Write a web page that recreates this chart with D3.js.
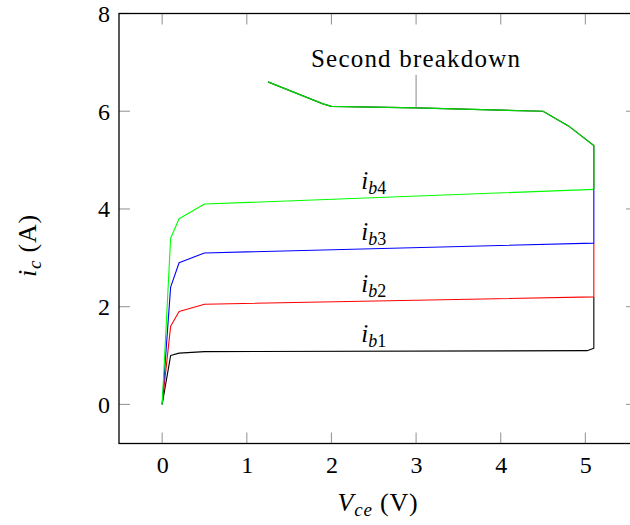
<!DOCTYPE html>
<html>
<head>
<meta charset="utf-8">
<script src="https://cdn.jsdelivr.net/npm/d3@7"></script>
<style>
  html, body { margin: 0; padding: 0; background: #fff; }
  svg text { font-family: 'Liberation Serif'; fill: #000; }
</style>
</head>
<body>
<svg id="chart" width="630" height="525"></svg>
<script>
// ---- data ----
const xTicks = [0, 1, 2, 3, 4, 5];
const yTicks = [0, 2, 4, 6, 8];

const ib1X = [0, 0.1, 0.2, 0.5, 5.02, 5.1, 5.1];
const ib1Y = [0, 1.0, 1.05, 1.08, 1.10, 1.15, 2.2];

const ib2X = [0, 0.1, 0.2, 0.5, 5.1, 5.1];
const ib2Y = [0, 1.6, 1.9, 2.05, 2.2, 3.3];

const ib3X = [0, 0.1, 0.2, 0.5, 5.1, 5.1];
const ib3Y = [0, 2.4, 2.9, 3.1, 3.3, 4.4];

const ib4X = [0, 0.1, 0.2, 0.5, 5.1];
const ib4Y = [0, 3.4, 3.8, 4.1, 4.4];

const breakdownX = [5.1, 5.1, 4.8, 4.5, 3.0, 2.0, 1.9, 1.25];
const breakdownY = [4.4, 5.3, 5.7, 6.0, 6.07, 6.1, 6.15, 6.6];

const seriesNames = ["b1", "b2", "b3", "b4"];
const seriesColors = ["#000000", "#ff0000", "#0000ff", "#00ff00"];
const labelAtX = 2.5;
const annotationX = 3.0;
const annotationText = "Second breakdown";

(function () {
const svg = d3.select("#chart");
const pxL = 119, pxR = 637, pxT = 13.5, pxB = 443.5;
const x = d3.scaleLinear().domain([-0.51, 5.61]).range([pxL, pxR]);
const y = d3.scaleLinear().domain([-0.8, 8]).range([pxB, pxT]);

const tickLen = 11;
const tickColor = "#9a9a9a";
const fontSize = 24;
const ff = "'Liberation Serif'";

const g = svg.append("g");
xTicks.forEach(t => {
  g.append("line").attr("x1", x(t)).attr("x2", x(t)).attr("y1", pxB).attr("y2", pxB - tickLen)
    .attr("stroke", tickColor).attr("stroke-width", 1.1);
  g.append("line").attr("x1", x(t)).attr("x2", x(t)).attr("y1", pxT).attr("y2", pxT + tickLen)
    .attr("stroke", tickColor).attr("stroke-width", 1.1);
});
yTicks.forEach(t => {
  g.append("line").attr("x1", pxL).attr("x2", pxL + tickLen).attr("y1", y(t)).attr("y2", y(t))
    .attr("stroke", tickColor).attr("stroke-width", 1.1);
  g.append("line").attr("x1", pxR).attr("x2", pxR - tickLen).attr("y1", y(t)).attr("y2", y(t))
    .attr("stroke", tickColor).attr("stroke-width", 1.1);
});

const xAxis = d3.axisBottom(x).tickValues(xTicks).tickFormat(d3.format("d")).tickSize(0).tickPadding(0);
const xa = svg.append("g").attr("transform", `translate(0,${pxB})`).call(xAxis);
xa.select(".domain").remove();
xa.selectAll("text").style("font-family", ff).style("font-size", fontSize + "px")
  .attr("dy", null).attr("y", 29).attr("fill", "#000");

const yAxis = d3.axisLeft(y).tickValues(yTicks).tickFormat(d3.format("d")).tickSize(0).tickPadding(0);
const ya = svg.append("g").attr("transform", `translate(${pxL},0)`).call(yAxis);
ya.select(".domain").remove();
ya.selectAll("text").style("font-family", ff).style("font-size", fontSize + "px")
  .attr("x", -9).attr("dy", "0.33em").attr("fill", "#000");

const line = d3.line().x(d => x(d[0])).y(d => y(d[1]));
const allX = [ib1X, ib2X, ib3X, ib4X];
const allY = [ib1Y, ib2Y, ib3Y, ib4Y];
const plot = svg.append("g");
allX.forEach((xs, i) => {
  const pts = xs.map((v, k) => [v, allY[i][k]]);
  plot.append("path").datum(pts).attr("d", line)
    .attr("fill", "none").attr("stroke", seriesColors[i]).attr("stroke-width", 1.1)
    .attr("stroke-linejoin", "round");
});
const bdPts = breakdownX.map((v, k) => [v, breakdownY[k]]);
plot.append("path").datum(bdPts).attr("d", line)
  .attr("fill", "none").attr("stroke", "#000").attr("stroke-width", 1.2);
plot.append("path").datum(bdPts).attr("d", line)
  .attr("fill", "none").attr("stroke", "#00ff00").attr("stroke-width", 1.2).attr("stroke-opacity", 0.85);

allX.forEach((xs, i) => {
  const ys = allY[i];
  const k = xs.findIndex(v => v >= labelAtX);
  const yVal = ys[k - 1] + (ys[k] - ys[k - 1]) * (labelAtX - xs[k - 1]) / (xs[k] - xs[k - 1]);
  const t = svg.append("text").attr("x", x(labelAtX)).attr("y", y(yVal) - 9)
    .attr("text-anchor", "middle").style("font-size", "25px");
  t.append("tspan").attr("font-style", "italic").text("i");
  t.append("tspan").attr("font-style", "italic").style("font-size", "18px").attr("dy", 5).text(seriesNames[i][0]);
  t.append("tspan").style("font-size", "18px").text(seriesNames[i].slice(1));
});

const bdAtX = 6.07;
svg.append("line").attr("x1", x(annotationX)).attr("x2", x(annotationX))
  .attr("y1", y(bdAtX)).attr("y2", y(bdAtX) - 33)
  .attr("stroke", "#888").attr("stroke-width", 1);
svg.append("text").attr("x", x(annotationX)).attr("y", y(bdAtX) - 41)
  .attr("text-anchor", "middle").style("font-size", "25px").attr("letter-spacing", 1.2)
  .text(annotationText);

svg.append("rect").attr("x", pxL).attr("y", pxT).attr("width", pxR - pxL).attr("height", pxB - pxT)
  .attr("fill", "none").attr("stroke", "#000").attr("stroke-width", 1.3);

const xl = svg.append("text").attr("x", (pxL + pxR) / 2).attr("y", 511)
  .attr("text-anchor", "middle").style("font-size", "26px").attr("letter-spacing", 0.8);
xl.append("tspan").attr("font-style", "italic").text("V");
xl.append("tspan").attr("font-style", "italic").style("font-size", "19px").attr("dy", 5).text("ce");
xl.append("tspan").attr("dy", -5).text(" (V)");

const yl = svg.append("text").attr("transform", `translate(36,${(pxT + pxB) / 2 + 17}) rotate(-90)`)
  .attr("text-anchor", "middle").style("font-size", "26px").attr("letter-spacing", 0.8);
yl.append("tspan").attr("font-style", "italic").text("i");
yl.append("tspan").attr("font-style", "italic").style("font-size", "19px").attr("dy", 5).text("c");
yl.append("tspan").attr("dy", -5).text(" (A)");
})();
</script>
</body>
</html>
